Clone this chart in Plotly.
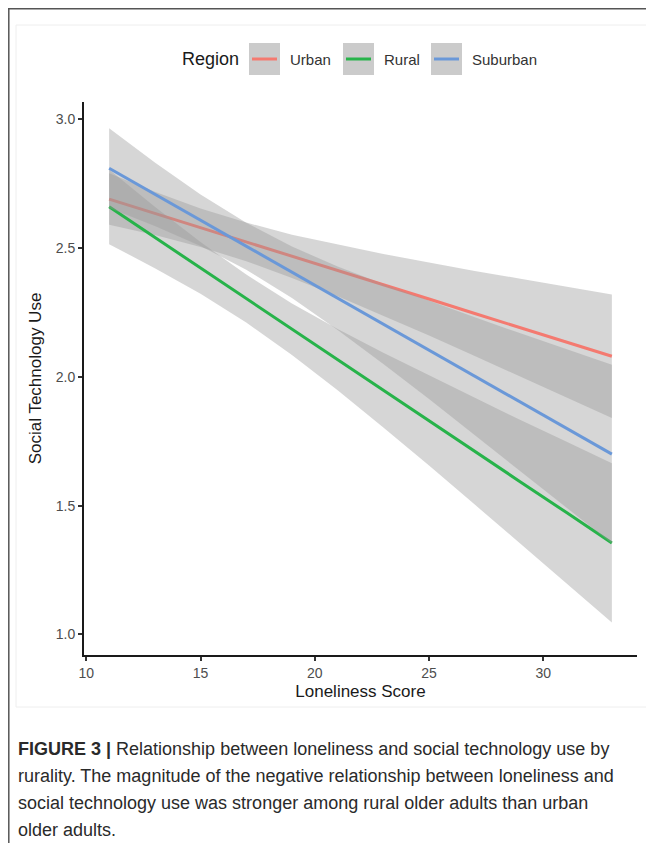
import plotly.graph_objects as go

# ---------------- data ----------------
loneliness = [11, 13, 15, 17, 19, 21, 23, 25, 27, 29, 31, 33]

urban_fit = [2.690, 2.635, 2.579, 2.524, 2.468, 2.413, 2.357, 2.302, 2.246, 2.191, 2.135, 2.080]
urban_upper = [2.790, 2.719, 2.654, 2.599, 2.552, 2.513, 2.477, 2.444, 2.411, 2.381, 2.350, 2.320]
urban_lower = [2.590, 2.551, 2.504, 2.449, 2.384, 2.313, 2.237, 2.160, 2.081, 2.002, 1.921, 1.840]

rural_fit = [2.660, 2.541, 2.423, 2.304, 2.185, 2.067, 1.948, 1.830, 1.711, 1.592, 1.474, 1.355]
rural_upper = [2.805, 2.660, 2.523, 2.397, 2.285, 2.186, 2.093, 2.005, 1.918, 1.832, 1.749, 1.664]
rural_lower = [2.515, 2.422, 2.323, 2.211, 2.085, 1.948, 1.803, 1.656, 1.504, 1.352, 1.200, 1.046]

suburban_fit = [2.810, 2.709, 2.608, 2.507, 2.406, 2.305, 2.205, 2.104, 2.003, 1.902, 1.801, 1.700]
suburban_upper = [2.965, 2.832, 2.708, 2.598, 2.506, 2.428, 2.360, 2.294, 2.231, 2.169, 2.108, 2.047]
suburban_lower = [2.655, 2.586, 2.508, 2.416, 2.306, 2.182, 2.050, 1.914, 1.775, 1.635, 1.494, 1.353]

region_names = ["Urban", "Rural", "Suburban"]
x_ticks = [10, 15, 20, 25, 30]
y_ticks = [1.0, 1.5, 2.0, 2.5, 3.0]

caption_lines = [
    "<b>FIGURE 3 |</b> Relationship between loneliness and social technology use by",
    "rurality. The magnitude of the negative relationship between loneliness and",
    "social technology use was stronger among rural older adults than urban",
    "older adults.",
]

# ---------------- styling ----------------
colors = {"Urban": "#F47A70", "Rural": "#27B34A", "Suburban": "#6A98D8"}
ribbon_fill = "rgba(153,153,153,0.4)"
OFF = 8  # page body margin
W, H = 654 - OFF, 843 - OFF
L, T = 84 - OFF, 102 - OFF
PW, PH = 553, 553
R, B = W - L - PW, H - T - PH
FONT = "Liberation Sans, Arial, sans-serif"


def px(x):
    return (x - OFF - L) / PW


def py(y):
    return (T + PH - (y - OFF)) / PH


series = {
    "Urban": (urban_fit, urban_upper, urban_lower),
    "Rural": (rural_fit, rural_upper, rural_lower),
    "Suburban": (suburban_fit, suburban_upper, suburban_lower),
}

fig = go.Figure()
for name in region_names:
    fit, up, lo = series[name]
    fig.add_trace(go.Scatter(
        x=loneliness + loneliness[::-1],
        y=up + lo[::-1],
        fill="toself", fillcolor=ribbon_fill,
        line=dict(width=0), mode="lines",
        hoverinfo="skip", showlegend=False,
    ))
    fig.add_trace(go.Scatter(
        x=loneliness, y=fit, mode="lines", name=name,
        line=dict(color=colors[name], width=3),
        showlegend=False,
    ))

axis_font = dict(family=FONT, size=14, color="#4d4d4d")
fig.update_xaxes(
    range=[9.9, 34.1], tickvals=x_ticks, showgrid=False, zeroline=False,
    showline=True, linecolor="#1a1a1a", linewidth=2,
    ticks="outside", ticklen=4, tickwidth=1.5, tickcolor="#333333",
    tickfont=axis_font,
    title=dict(text="Loneliness Score", standoff=5,
               font=dict(family=FONT, size=17, color="#1a1a1a")),
)
fig.update_yaxes(
    range=[0.92, 3.067], tickvals=y_ticks, tickformat=".1f", showgrid=False, zeroline=False,
    showline=True, linecolor="#1a1a1a", linewidth=2,
    ticks="outside", ticklen=4, tickwidth=1.5, tickcolor="#333333",
    tickfont=axis_font,
    title=dict(text="Social Technology Use", standoff=10,
               font=dict(family=FONT, size=17, color="#1a1a1a")),
)

shapes = []
annotations = []

# outer frame (left and top dark lines) and faint inner panel border
shapes.append(dict(type="line", xref="paper", yref="paper",
                   x0=px(8.8), x1=px(8.8), y0=py(8.8), y1=py(843),
                   line=dict(color="#555555", width=1.5)))
shapes.append(dict(type="line", xref="paper", yref="paper",
                   x0=px(8), x1=px(654), y0=py(8.8), y1=py(8.8),
                   line=dict(color="#555555", width=1.5)))
shapes.append(dict(type="rect", xref="paper", yref="paper",
                   x0=px(16), x1=px(648), y0=py(25), y1=py(707),
                   line=dict(color="#eeeeee", width=1), layer="below"))

# manual legend
annotations.append(dict(text="Region", xref="paper", yref="paper",
                        x=px(241), y=py(59), xanchor="right", yanchor="middle",
                        showarrow=False,
                        font=dict(family=FONT, size=18, color="#1a1a1a")))
key_boxes = {"Urban": 249, "Rural": 343, "Suburban": 431}
for name in region_names:
    x0 = key_boxes[name]
    shapes.append(dict(type="rect", xref="paper", yref="paper",
                       x0=px(x0), x1=px(x0 + 31), y0=py(43), y1=py(75),
                       fillcolor="#cbcbcb", line=dict(width=0)))
    shapes.append(dict(type="line", xref="paper", yref="paper",
                       x0=px(x0 + 3), x1=px(x0 + 28), y0=py(59), y1=py(59),
                       line=dict(color=colors[name], width=3)))
    annotations.append(dict(text=name, xref="paper", yref="paper",
                            x=px(x0 + 39), y=py(59), xanchor="left", yanchor="middle",
                            showarrow=False,
                            font=dict(family=FONT, size=15, color="#333333")))

# caption
caption_y = [749, 776, 803, 830]
for text, yy in zip(caption_lines, caption_y):
    annotations.append(dict(text=text, xref="paper", yref="paper",
                            x=px(16), y=py(yy), xanchor="left", yanchor="middle",
                            showarrow=False, align="left",
                            font=dict(family=FONT, size=18, color="#2a2a2a")))

fig.update_layout(
    width=W, height=H,
    margin=dict(l=L, r=R, t=T, b=B, pad=0),
    paper_bgcolor="white", plot_bgcolor="white",
    showlegend=False,
    shapes=shapes, annotations=annotations,
)

fig.write_html("out.html")
